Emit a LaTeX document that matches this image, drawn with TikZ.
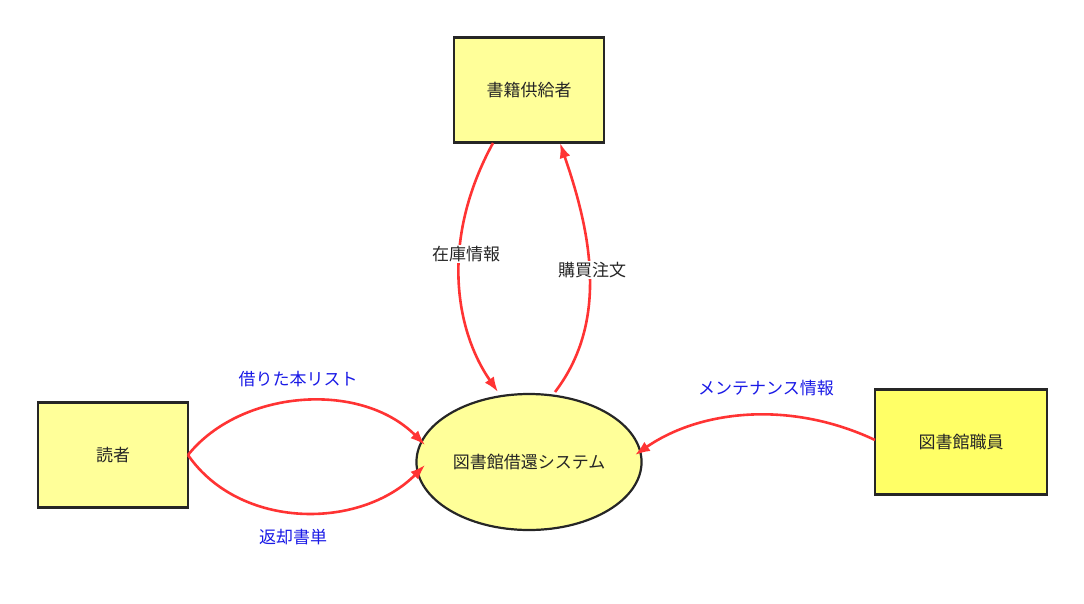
\documentclass[tikz,border=0pt]{standalone}
\usepackage{fontspec}
\setmainfont{Noto Sans CJK JP}
\usetikzlibrary{shapes.geometric,arrows.meta}
\definecolor{boxy}{HTML}{FFFF99}
\definecolor{boxy2}{HTML}{FFFF66}
\definecolor{edge}{HTML}{FF3333}
\definecolor{lbl}{HTML}{1A1AE6}
\tikzset{
 ent/.style={draw=black!85,line width=2.2pt,fill=boxy,minimum width=150pt,minimum height=105pt,font=\fontsize{17}{20}\selectfont,text=black!85},
 proc/.style={ellipse,draw=black!85,line width=2.2pt,fill=boxy,minimum width=208pt,minimum height=136pt,font=\fontsize{17}{20}\selectfont,text=black!85},
 flow/.style={draw=edge,line width=2.6pt,-{Latex[length=15pt,width=11pt]}},
 lab/.style={font=\fontsize{17}{20}\selectfont,text=black!85},
 blab/.style={font=\fontsize{17}{20}\selectfont,text=lbl}
}
\begin{document}
\begin{tikzpicture}[x=1pt,y=-1pt]
\useasboundingbox (0,0) rectangle (1084,603);
\node[ent] (sup) at (529,90) {書籍供給者};
\node[ent] (rd) at (113,455) {読者};
\node[ent,fill=boxy2,minimum width=172pt] (st) at (961,442) {図書館職員};
\node[proc] (sys) at (529,462) {図書館借還システム};
\coordinate (s1) at (493,143);
\coordinate (s2) at (560,143);
\coordinate (e1) at (498,392);
\coordinate (e2) at (555,392);
\draw[flow] (s1) .. controls (440,240) and (455,330) .. (e1);
\draw[flow] (e2) .. controls (610,320) and (590,230) .. (s2);
\node[lab,fill=white,inner sep=1pt] at (466,254) {在庫情報};
\node[lab,fill=white,inner sep=1pt] at (592,270) {購買注文};
\coordinate (r) at (188,455);
\draw[flow] (r) .. controls (240,390) and (360,380) .. (425,445);
\draw[flow] (r) .. controls (240,530) and (360,530) .. (425,465);
\node[blab] at (298,379) {借りた本リスト};
\node[blab] at (293,537) {返却書単};
\coordinate (m) at (875,440);
\draw[flow] (m) .. controls (790,400) and (700,410) .. (635,455);
\node[blab] at (766,388) {メンテナンス情報};
\end{tikzpicture}
\end{document}
